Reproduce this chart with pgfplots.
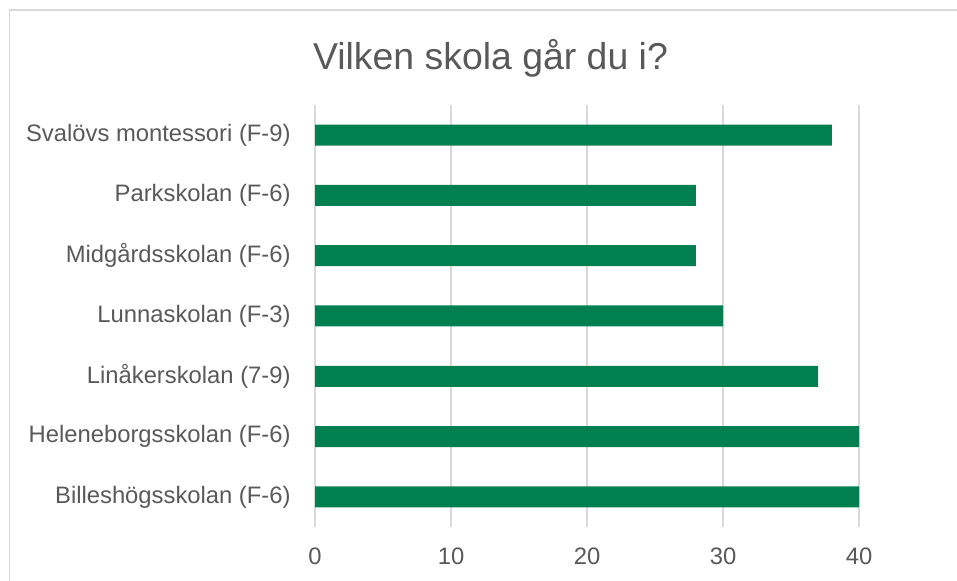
\documentclass[border=0pt]{standalone}
\usepackage{pgfplots}
\pgfplotsset{compat=1.18}
\usepackage{fontspec}
\setmainfont{Liberation Sans}
\definecolor{bargreen}{HTML}{008050}
\definecolor{gridgray}{HTML}{D9D9D9}
\definecolor{txtgray}{HTML}{595959}
\begin{document}
\begin{tikzpicture}[x=1pt,y=1pt]
\useasboundingbox (0,0) rectangle (478.5,290.5);
\draw[gridgray, line width=0.75pt] (4.75,-2) -- (4.75,285.5) -- (480,285.5);
\node[anchor=base, text=txtgray, font=\fontsize{18.7}{22}\selectfont, inner sep=0] at (245.25,255.5) {Vilken skola går du i?};
\begin{axis}[
  at={(157.5pt,27pt)}, anchor=south west,
  scale only axis,
  width=272pt, height=211pt,
  xbar, bar width=10.5pt,
  xmin=0, xmax=40,
  ymin=-0.5, ymax=6.5,
  xtick={0,10,20,30,40},
  ytick={0,1,2,3,4,5,6},
  yticklabels={Billeshögsskolan (F-6),Heleneborgsskolan (F-6),Linåkerskolan (7-9),Lunnaskolan (F-3),Midgårdsskolan (F-6),Parkskolan (F-6),Svalövs montessori (F-9)},
  axis line style={draw=none},
  major tick length=0pt,
  xmajorgrids,
  grid style={gridgray, line width=0.75pt},
  tick label style={text=txtgray, font=\fontsize{11.9}{14}\selectfont, inner sep=0pt},
  xticklabel style={yshift=-10pt},
  yticklabel style={xshift=-12pt},
  /pgf/number format/assume math mode=true,
  clip=false,
]
\addplot[draw=none, fill=bargreen] coordinates {
  (40,0) (40,1) (37,2) (30,3) (28,4) (28,5) (38,6)
};
\end{axis}
\end{tikzpicture}
\end{document}
